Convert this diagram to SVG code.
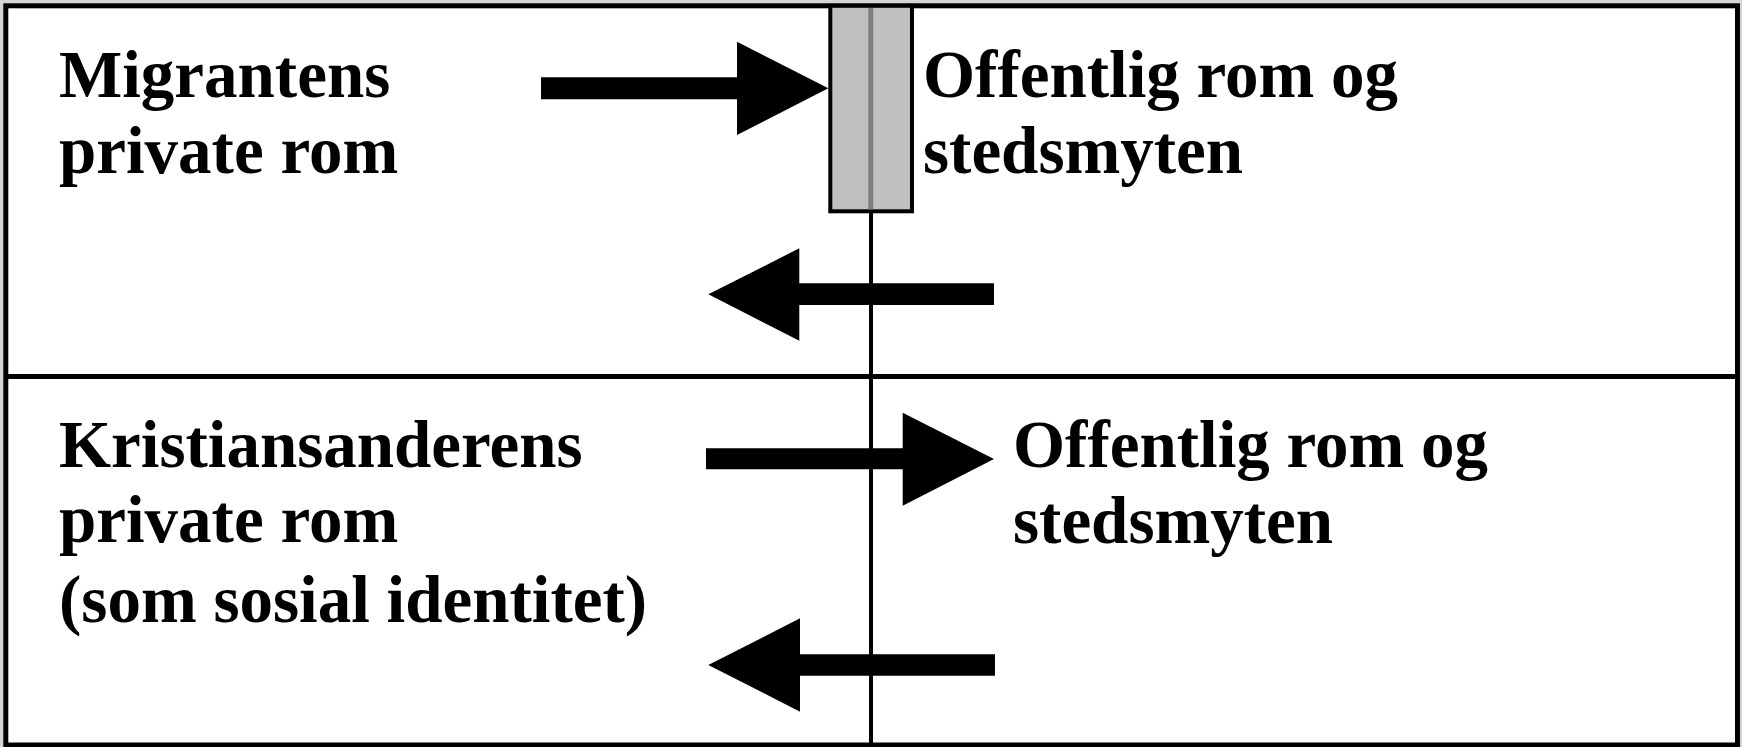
<svg xmlns="http://www.w3.org/2000/svg" width="1742" height="747" viewBox="0 0 1742 747">
  <style>
    .lbl { font-family: "Liberation Serif", "Times New Roman", serif; font-weight: bold; font-size: 67px; fill: #000; }
    .frame { fill: #fff; stroke: #000; stroke-width: 5; }
    .line { stroke: #000; fill: none; }
    .arrow { fill: #000; stroke: none; }
  </style>
  <rect x="0" y="0" width="1742" height="747" fill="#d6d6d6"/>
  <g id="frame">
    <rect class="frame" x="5.8" y="5.8" width="1731.7" height="739.2"/>
    <line class="line" x1="5.8" y1="376.5" x2="1737.5" y2="376.5" stroke-width="5"/>
    <line class="line" x1="871" y1="211" x2="871" y2="745" stroke-width="4"/>
  </g>
  <g id="barrier">
    <rect x="830.3" y="5.8" width="81.7" height="205.5" fill="#c0c0c0" stroke="#000" stroke-width="4"/>
    <line x1="870.8" y1="8" x2="870.8" y2="209.3" stroke="#808080" stroke-width="5"/>
  </g>
  <g id="migrant-private">
    <text class="lbl" x="59" y="97">Migrantens</text>
    <text class="lbl" x="59" y="172.5">private rom</text>
  </g>
  <g id="public-top">
    <text class="lbl" x="923" y="97">Offentlig rom og</text>
    <text class="lbl" x="923" y="172.5">stedsmyten</text>
  </g>
  <g id="kristiansander-private">
    <text class="lbl" x="59" y="467">Kristiansanderens</text>
    <text class="lbl" x="59" y="542">private rom</text>
    <text class="lbl" x="59" y="622">(som sosial identitet)</text>
  </g>
  <g id="public-bottom">
    <text class="lbl" x="1013" y="467">Offentlig rom og</text>
    <text class="lbl" x="1013" y="542.5">stedsmyten</text>
  </g>
  <g id="connectors">
    <polygon class="arrow" points="541,77.3 737,77.3 737,41.7 828.3,88.3 737,135 737,99.3 541,99.3"/>
    <polygon class="arrow" points="994,283.3 799.3,283.3 799.3,248.3 708.3,294.3 799.3,340.7 799.3,305 994,305"/>
    <polygon class="arrow" points="706,448.3 902.7,448.3 902.7,412.7 994,459 902.7,505.7 902.7,469.3 706,469.3"/>
    <polygon class="arrow" points="995,654.3 800,654.3 800,618.3 708.3,665 800,711.7 800,675.7 995,675.7"/>
  </g>
</svg>
